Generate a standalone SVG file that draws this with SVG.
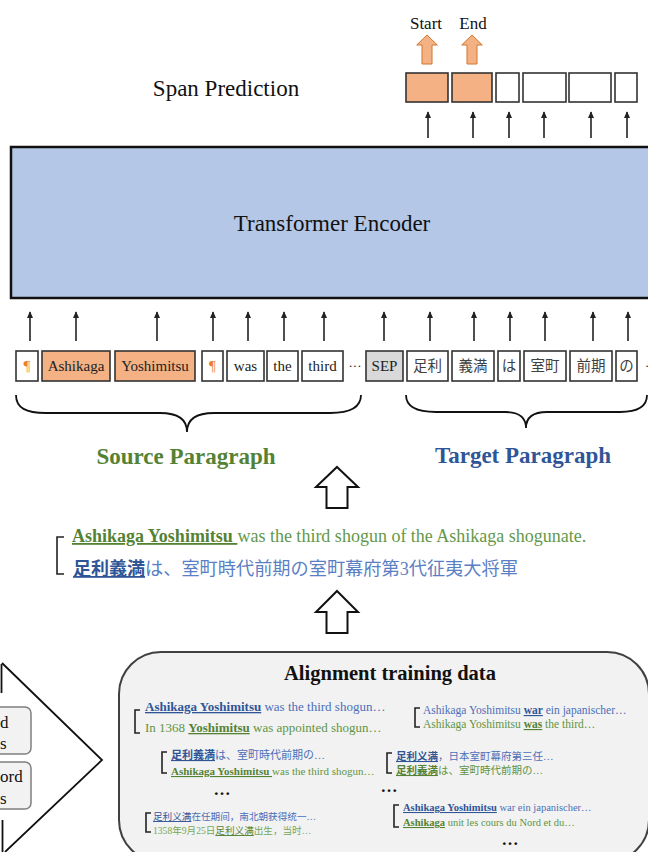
<svg xmlns="http://www.w3.org/2000/svg" width="648" height="852" viewBox="0 0 648 852">
<defs>
<style>
text{font-family:"Liberation Serif","Noto Sans CJK JP",serif;}
.tok{fill:#fff;stroke:#333;stroke-width:1.6}
.org{fill:#F4B183;stroke:#333;stroke-width:1.6}
.sep{fill:#D9D9D9;stroke:#333;stroke-width:1.6}
.tt{font-size:15px;fill:#222;text-anchor:middle}
.pil{font-size:15px;fill:#ED7D31;text-anchor:middle}
.jt{font-family:"Noto Sans CJK JP",sans-serif;font-size:14.5px;fill:#404040;text-anchor:middle}
.arr{stroke:#222;stroke-width:1.6;fill:none;marker-end:url(#ah)}
.brace{fill:none;stroke:#111;stroke-width:1.8}
.brk{fill:none;stroke:#222;stroke-width:1.6}
.blk{fill:#fff;stroke:#111;stroke-width:2}
.oblk{fill:#F4B183;stroke:#D0772F;stroke-width:1}
.bb{fill:#2F5597;font-weight:bold;text-decoration:underline}
.bl{fill:#4A6FB8}
.gb{fill:#548235;font-weight:bold;text-decoration:underline}
.gl{fill:#619445}
.sc{font-family:"Liberation Serif","Noto Sans CJK SC",sans-serif}
.dots{font-size:17px;font-weight:bold;fill:#111;text-anchor:middle}
.side{fill:#F2F2F2;stroke:#7F7F7F;stroke-width:1.5}
</style>
<marker id="ah" viewBox="0 0 10 10" refX="9" refY="5" markerWidth="7" markerHeight="7" markerUnits="userSpaceOnUse" orient="auto">
<path d="M0,0.5 L10,5 L0,9.5 Z" fill="#222"/>
</marker>
</defs>
<rect width="648" height="852" fill="#fff"/>

<g id="span-prediction">
<text x="226" y="96" font-size="23" text-anchor="middle" fill="#111">Span Prediction</text>
<rect class="org" x="406" y="73" width="42" height="29"/>
<rect class="org" x="452" y="73" width="40" height="29"/>
<rect class="tok" x="496" y="73" width="23" height="29"/>
<rect class="tok" x="523" y="73" width="43" height="29"/>
<rect class="tok" x="569" y="73" width="42" height="29"/>
<rect class="tok" x="615" y="73" width="22" height="29"/>
</g>

<g id="start-end">
<path class="oblk" d="M427,35 L437.3,45 L432,45 L432,64 L422,64 L422,45 L416.7,45 Z"/>
<path class="oblk" d="M472,35 L482.3,45 L477,45 L477,64 L467,64 L467,45 L461.7,45 Z"/>
<text x="426" y="29" font-size="17" text-anchor="middle" fill="#111">Start</text>
<text x="473" y="29" font-size="17" text-anchor="middle" fill="#111">End</text>
</g>

<g id="transformer-encoder">
<rect x="11" y="147" width="640" height="151" fill="#B4C7E7" stroke="#111" stroke-width="2.5"/>
<text x="332" y="231" font-size="23" text-anchor="middle" fill="#111">Transformer Encoder</text>
</g>

<g id="tokens">
<rect class="tok" x="16" y="351" width="22" height="30"/><text class="pil" x="27" y="371">¶</text>
<rect class="org" x="42" y="351" width="68" height="30"/><text class="tt" x="76" y="371">Ashikaga</text>
<rect class="org" x="115" y="351" width="80" height="30"/><text class="tt" x="155" y="371">Yoshimitsu</text>
<rect class="tok" x="202" y="351" width="21" height="30"/><text class="pil" x="212.5" y="371">¶</text>
<rect class="tok" x="227" y="351" width="37" height="30"/><text class="tt" x="245.5" y="371">was</text>
<rect class="tok" x="267" y="351" width="31" height="30"/><text class="tt" x="282.5" y="371">the</text>
<rect class="tok" x="302" y="351" width="41" height="30"/><text class="tt" x="322.5" y="371">third</text>
<text x="355" y="370" font-size="13" text-anchor="middle" fill="#222">···</text>
<rect class="sep" x="366" y="351" width="37" height="30"/><text class="tt" x="384.5" y="371" fill="#333">SEP</text>
<rect class="tok" x="407" y="351" width="41" height="30"/><text class="jt" x="427.5" y="371">足利</text>
<rect class="tok" x="452" y="351" width="42" height="30"/><text class="jt" x="473" y="371">義満</text>
<rect class="tok" x="498" y="351" width="22" height="30"/><text class="jt" x="509" y="371">は</text>
<rect class="tok" x="524" y="351" width="42" height="30"/><text class="jt" x="545" y="371">室町</text>
<rect class="tok" x="570" y="351" width="42" height="30"/><text class="jt" x="591" y="371">前期</text>
<rect class="tok" x="616" y="351" width="21" height="30"/><text class="jt" x="626.5" y="371">の</text>
<text x="645" y="370" font-size="13" fill="#222">·</text>
</g>

<g id="connectors">
<line class="arr" x1="428" y1="138" x2="428" y2="112"/>
<line class="arr" x1="473" y1="138" x2="473" y2="112"/>
<line class="arr" x1="509" y1="138" x2="509" y2="112"/>
<line class="arr" x1="544" y1="138" x2="544" y2="112"/>
<line class="arr" x1="591" y1="138" x2="591" y2="112"/>
<line class="arr" x1="627" y1="138" x2="627" y2="112"/>

<line class="arr" x1="30" y1="341" x2="30" y2="312"/>
<line class="arr" x1="76" y1="341" x2="76" y2="312"/>
<line class="arr" x1="157" y1="341" x2="157" y2="312"/>
<line class="arr" x1="213" y1="341" x2="213" y2="312"/>
<line class="arr" x1="248" y1="341" x2="248" y2="312"/>
<line class="arr" x1="284" y1="341" x2="284" y2="312"/>
<line class="arr" x1="324" y1="341" x2="324" y2="312"/>
<line class="arr" x1="384" y1="341" x2="384" y2="312"/>
<line class="arr" x1="430" y1="341" x2="430" y2="312"/>
<line class="arr" x1="474" y1="341" x2="474" y2="312"/>
<line class="arr" x1="510" y1="341" x2="510" y2="312"/>
<line class="arr" x1="545" y1="341" x2="545" y2="312"/>
<line class="arr" x1="593" y1="341" x2="593" y2="312"/>
<line class="arr" x1="628" y1="341" x2="628" y2="312"/>

<path class="blk" d="M337,467 L358,487 L347.5,487 L347.5,508 L326.5,508 L326.5,487 L316,487 Z"/>
<path class="blk" d="M337,591 L358,612 L347.5,612 L347.5,633 L326.5,633 L326.5,612 L316,612 Z"/>
</g>

<g id="source-paragraph">
<path class="brace" d="M16,395 C16,408 26,413 46,413 L160,413 C178,413 187,419 187,432 C187,419 196,413 214,413 L330,413 C350,413 361,408 361,395"/>
<text x="186" y="464" font-size="23" font-weight="bold" text-anchor="middle" fill="#548235">Source Paragraph</text>
</g>

<g id="target-paragraph">
<path class="brace" d="M406,395 C406,407 416,412 436,412 L505,412 C519,412 526,418 526,428 C526,418 533,412 547,412 L620,412 C638,412 647,407 647,395"/>
<text x="523" y="463" font-size="23" font-weight="bold" text-anchor="middle" fill="#2F5597">Target Paragraph</text>
</g>

<g id="aligned-pair">
<path class="brk" d="M64,537 L57,537 L57,574 L64,574" stroke-width="2"/>
<text x="72" y="542" font-size="18"><tspan class="gb">Ashikaga Yoshimitsu </tspan><tspan fill="#64984A">was the third shogun of the Ashikaga shogunate.</tspan></text>
<text x="73" y="575"><tspan class="bb" font-size="18">足利義満</tspan><tspan fill="#5B7FC4" font-size="18.2">は、室町時代前期の室町幕府第3代征夷大将軍</tspan></text>
</g>

<g id="side-shape">
<polyline points="2,663 102,760 5,852" fill="none" stroke="#111" stroke-width="1.8"/>
<line x1="1.5" y1="664" x2="1.5" y2="693" stroke="#111" stroke-width="1.8"/>
<line x1="2.5" y1="820" x2="2.5" y2="852" stroke="#111" stroke-width="1.8"/>
<rect class="side" x="-12" y="707" width="43" height="47" rx="6"/>
<rect class="side" x="-12" y="762" width="43" height="47" rx="6"/>
<text x="0" y="728" font-size="17" fill="#111">d</text>
<text x="0" y="749" font-size="17" fill="#111">s</text>
<text x="0" y="782" font-size="17" fill="#111">ord</text>
<text x="0" y="804" font-size="17" fill="#111">s</text>
</g>

<g id="alignment-training-data">
<rect x="119" y="652" width="530" height="210" rx="42" fill="#F2F2F2" stroke="#404040" stroke-width="2"/>
<text x="390" y="680" font-size="20.5" font-weight="bold" text-anchor="middle" fill="#111">Alignment training data</text>

<path class="brk" d="M140,710 L135,710 L135,733 L140,733"/>
<text x="145" y="711" font-size="13"><tspan class="bb">Ashikaga Yoshimitsu</tspan><tspan class="bl"> was the third shogun…</tspan></text>
<text x="145" y="732" font-size="13"><tspan class="gl">In 1368 </tspan><tspan class="gb">Yoshimitsu</tspan><tspan class="gl"> was appointed shogun…</tspan></text>

<path class="brk" d="M167,752 L162,752 L162,773 L167,773"/>
<text x="171" y="759" font-size="11"><tspan class="bb">足利義満</tspan><tspan class="bl">は、室町時代前期の…</tspan></text>
<text x="171" y="775" font-size="11"><tspan class="gb">Ashikaga Yoshimitsu </tspan><tspan class="gl">was the third shogun…</tspan></text>
<text class="dots" x="222" y="795">…</text>

<path class="brk" d="M151,813 L146,813 L146,832 L151,832"/>
<text class="sc" x="153" y="820" font-size="9.6"><tspan fill="#2F5597" text-decoration="underline">足利义满</tspan><tspan class="bl">在任期间，南北朝获得统一…</tspan></text>
<text class="sc" x="153" y="834" font-size="9.6"><tspan fill="#75A85A">1358年9月25日</tspan><tspan fill="#548235" text-decoration="underline">足利义满</tspan><tspan fill="#75A85A">出生，当时…</tspan></text>

<path class="brk" d="M420,708 L415,708 L415,727 L420,727"/>
<text x="423" y="714" font-size="11.5"><tspan class="bl">Ashikaga Yoshimitsu </tspan><tspan class="bb">war</tspan><tspan class="bl"> ein japanischer…</tspan></text>
<text x="423" y="728" font-size="11.5"><tspan class="gl">Ashikaga Yoshimitsu </tspan><tspan class="gb">was</tspan><tspan class="gl"> the third…</tspan></text>

<path class="brk" d="M392,753 L387,753 L387,773 L392,773"/>
<text class="sc" x="396" y="760" font-size="10.5"><tspan class="bb">足利义满</tspan><tspan class="bl">，日本室町幕府第三任…</tspan></text>
<text x="396" y="774" font-size="10.5"><tspan class="gb">足利義満</tspan><tspan class="gl">は、室町時代前期の…</tspan></text>
<text class="dots" x="389" y="792">…</text>

<path class="brk" d="M399,805 L394,805 L394,827 L399,827"/>
<text x="403" y="811" font-size="10.5"><tspan class="bb">Ashikaga Yoshimitsu</tspan><tspan class="bl"> war ein japanischer…</tspan></text>
<text x="403" y="826" font-size="10.5"><tspan class="gb">Ashikaga</tspan><tspan class="gl"> unit les cours du Nord et du…</tspan></text>
<text class="dots" x="510" y="845">…</text>
</g>
</svg>
